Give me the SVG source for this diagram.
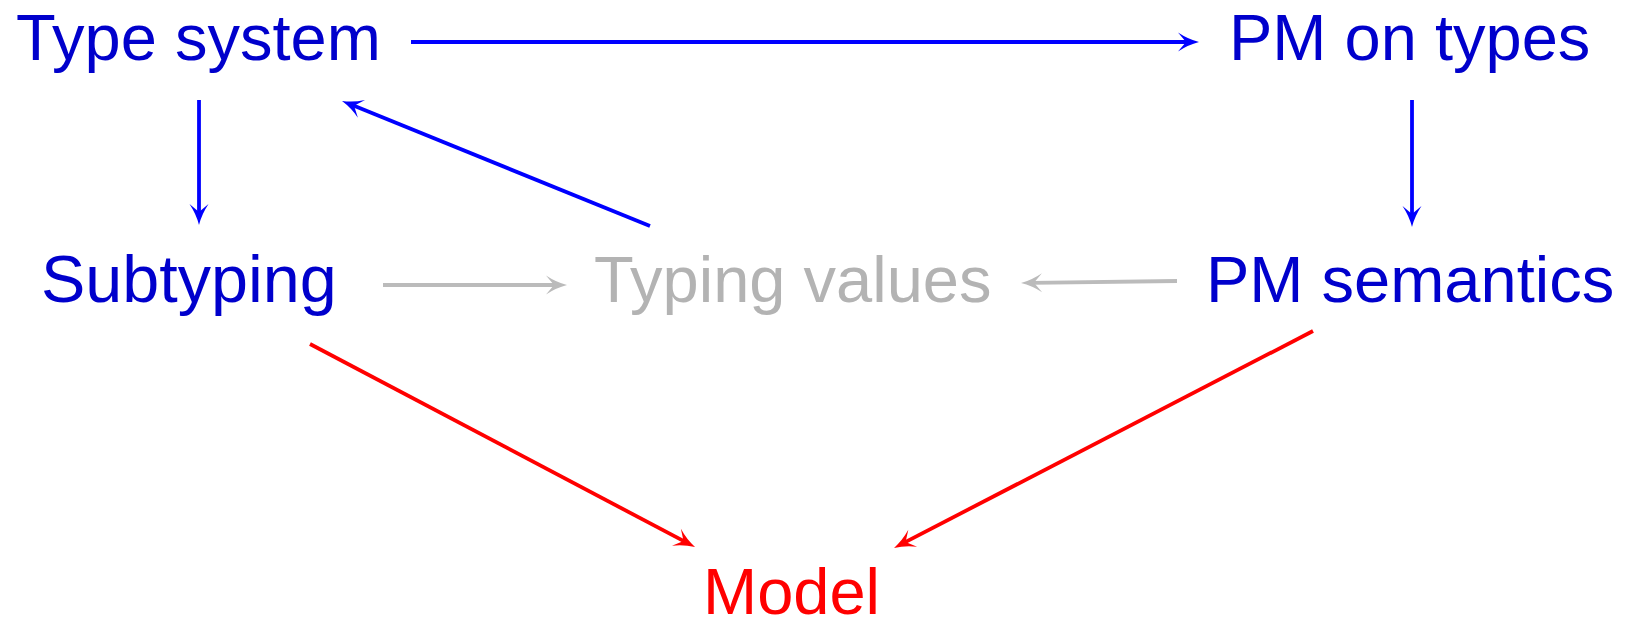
<svg xmlns="http://www.w3.org/2000/svg" width="1631" height="628" viewBox="0 0 1631 628">
<style>
  text { font-family: "Liberation Sans", Arial, sans-serif; font-size: 65px; }
  .blue { fill: #0000CC; }
  .gray { fill: #B3B3B3; }
  .red { fill: #FF0000; }
  .eb { stroke: #0000FF; stroke-width: 3.8; fill: none; marker-end: url(#hb); }
  .eg { stroke: #BBBBBB; stroke-width: 3.8; fill: none; marker-end: url(#hg); }
  .er { stroke: #FF0000; stroke-width: 3.8; fill: none; marker-end: url(#hr); }
</style>
<defs>
  <marker id="hb" viewBox="-24 -11 28 22" refX="-11" refY="0" markerWidth="28" markerHeight="22" markerUnits="userSpaceOnUse" orient="auto">
    <path d="M0,0 Q-11,-2.8 -21,-9.5 L-13,0 L-21,9.5 Q-11,2.8 0,0 Z" fill="#0000FF"/>
  </marker>
  <marker id="hg" viewBox="-24 -11 28 22" refX="-11" refY="0" markerWidth="28" markerHeight="22" markerUnits="userSpaceOnUse" orient="auto">
    <path d="M0,0 Q-11,-2.8 -21,-9.5 L-13,0 L-21,9.5 Q-11,2.8 0,0 Z" fill="#BBBBBB"/>
  </marker>
  <marker id="hr" viewBox="-24 -11 28 22" refX="-11" refY="0" markerWidth="28" markerHeight="22" markerUnits="userSpaceOnUse" orient="auto">
    <path d="M0,0 Q-11,-2.8 -21,-9.5 L-13,0 L-21,9.5 Q-11,2.8 0,0 Z" fill="#FF0000"/>
  </marker>
</defs>
<g id="connectors">
  <line class="eb" x1="411" y1="42" x2="1188" y2="42"/>
  <line class="eb" x1="199" y1="100" x2="199" y2="214"/>
  <line class="eb" x1="1412" y1="100" x2="1412" y2="216"/>
  <line class="eb" x1="650" y1="226" x2="352.2" y2="105.1"/>
  <line class="eg" x1="383" y1="285" x2="556" y2="285"/>
  <line class="eg" x1="1177" y1="281" x2="1032" y2="282.9"/>
  <line class="er" x1="310" y1="344" x2="685.3" y2="541.9"/>
  <line class="er" x1="1313" y1="331" x2="903.8" y2="542.9"/>
</g>
<g id="type-system"><text class="blue" x="16" y="60">Type system</text></g>
<g id="pm-on-types"><text class="blue" x="1229" y="60">PM on types</text></g>
<g id="subtyping"><text class="blue" x="41" y="302" style="font-size:66.5px">Subtyping</text></g>
<g id="typing-values"><text class="gray" x="594" y="302">Typing values</text></g>
<g id="pm-semantics"><text class="blue" x="1206" y="302">PM semantics</text></g>
<g id="model"><text class="red" x="703" y="614">Model</text></g>
</svg>
